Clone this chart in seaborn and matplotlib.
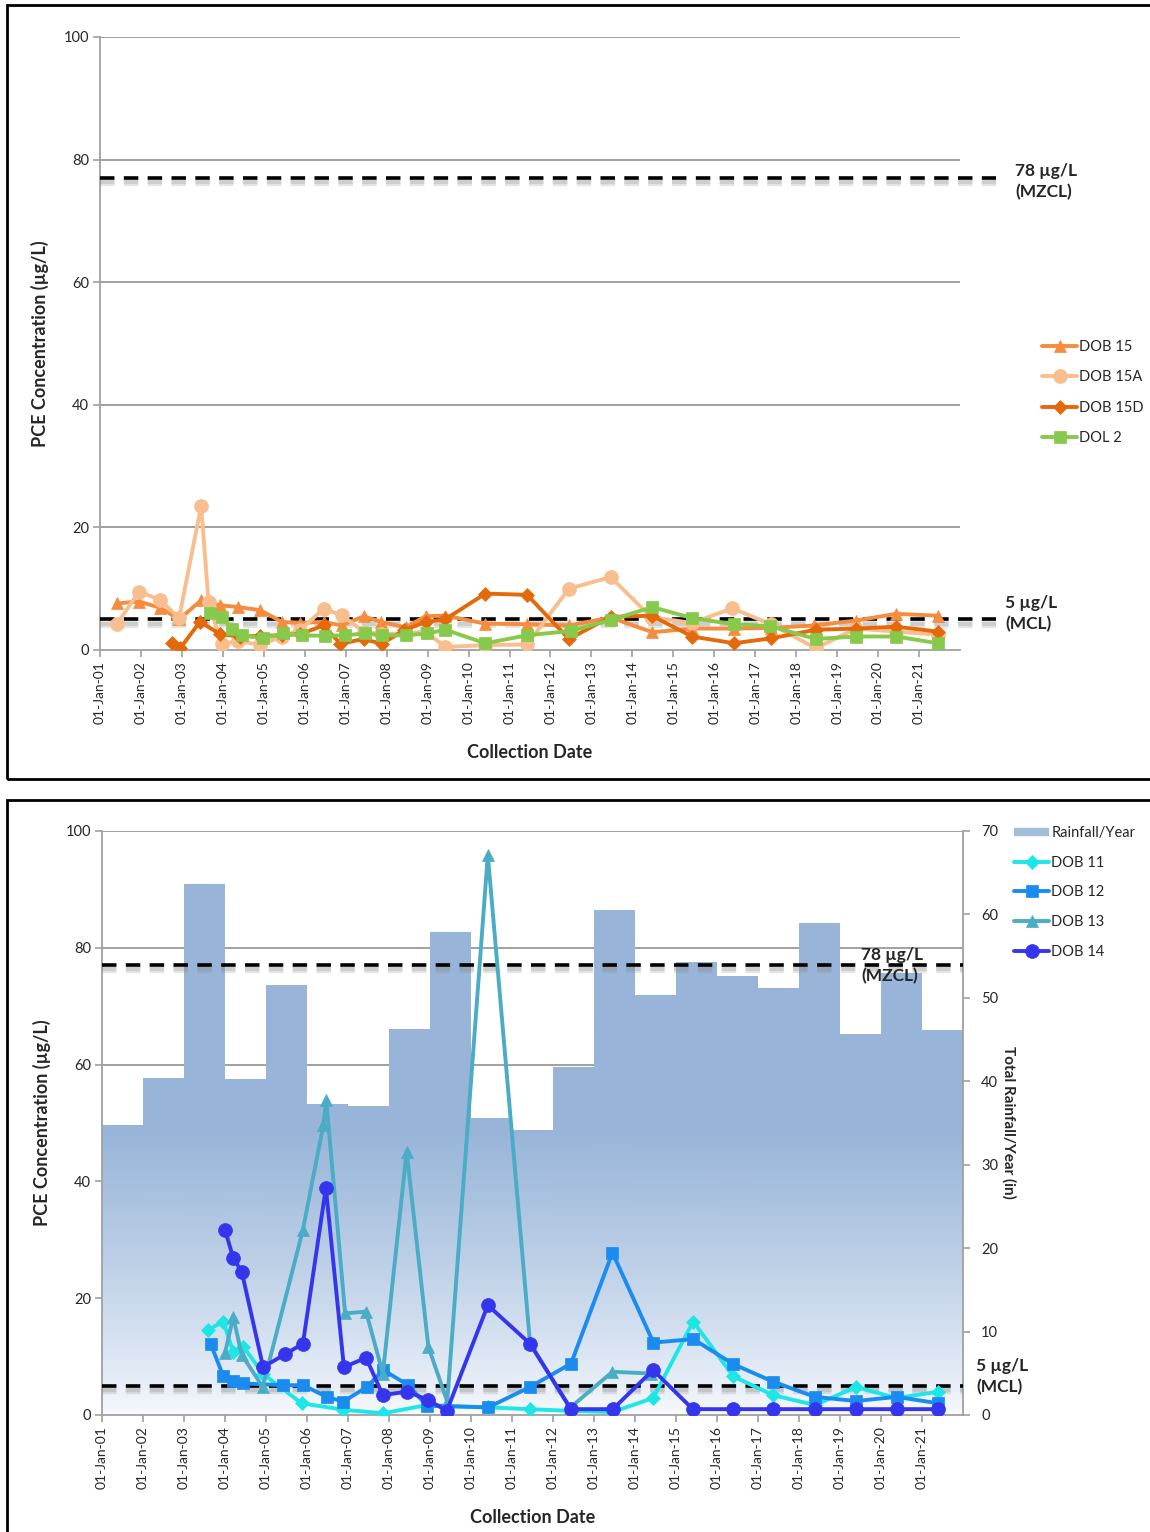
import numpy as np
import pandas as pd
import matplotlib
matplotlib.use("Agg")
import matplotlib.pyplot as plt
import seaborn as sns
from matplotlib import patheffects as pe
from matplotlib.lines import Line2D
from matplotlib.patches import Rectangle

# ---------------- data ----------------
years = list(range(2001, 2022))
tick_labels = [f"01-Jan-{y % 100:02d}" for y in years]

# top panel
dob15_x = [2001.42, 2001.95, 2002.47, 2002.93, 2003.47, 2003.93, 2004.38, 2004.91, 2005.44, 2005.89,
           2006.46, 2006.90, 2007.44, 2007.85, 2008.46, 2008.95, 2009.43, 2010.41, 2011.43, 2012.45,
           2013.47, 2014.49, 2015.46, 2016.48, 2017.38, 2018.43, 2019.46, 2020.44, 2021.46]
dob15_y = [7.6, 7.9, 6.9, 5.0, 8.1, 7.3, 7.0, 6.5, 4.6, 4.4,
           4.6, 4.0, 5.5, 4.6, 3.7, 5.5, 5.6, 4.3, 4.2, 4.0,
           5.3, 2.9, 3.5, 3.5, 3.6, 4.0, 4.8, 5.9, 5.6]

dob15a_x = [2001.42, 2001.95, 2002.47, 2002.93, 2003.47, 2003.65, 2003.97, 2004.38, 2004.91, 2005.44,
            2005.89, 2006.46, 2006.90, 2007.44, 2007.85, 2008.46, 2008.95, 2009.43, 2010.41, 2011.43,
            2012.45, 2013.47, 2014.45, 2015.46, 2016.44, 2017.38, 2018.48, 2019.46, 2020.44, 2021.46]
dob15a_y = [4.3, 9.5, 8.2, 5.2, 23.5, 7.9, 0.9, 1.5, 0.8, 2.2,
            3.3, 6.7, 5.7, 3.0, 2.6, 2.7, 3.0, 0.5, 0.8, 0.9,
            10.0, 11.9, 5.4, 4.4, 6.8, 4.2, 0.3, 3.5, 3.0, 2.5]

dob15d_x = [2002.75, 2002.96, 2003.44, 2003.93, 2004.42, 2004.91, 2005.44, 2005.89, 2006.46, 2006.87,
            2007.44, 2007.88, 2008.42, 2008.95, 2009.43, 2010.41, 2011.43, 2012.45, 2013.47, 2014.47,
            2015.46, 2016.48, 2017.38, 2018.48, 2019.46, 2020.44, 2021.46]
dob15d_y = [1.1, 0.3, 4.6, 2.6, 2.2, 2.3, 2.4, 2.6, 4.0, 1.0,
            1.8, 1.0, 3.2, 4.6, 5.0, 9.2, 9.0, 1.8, 5.4, 5.6,
            2.2, 1.1, 1.9, 3.3, 3.5, 3.8, 3.0]

dol2_x = [2003.69, 2003.97, 2004.22, 2004.46, 2004.99, 2005.48, 2005.93, 2006.50, 2006.99, 2007.48,
          2007.88, 2008.46, 2008.99, 2009.43, 2010.41, 2011.43, 2012.49, 2013.47, 2014.49, 2015.46,
          2016.48, 2017.36, 2018.48, 2019.46, 2020.44, 2021.46]
dol2_y = [6.0, 5.4, 3.5, 2.4, 1.9, 2.7, 2.4, 2.3, 2.4, 2.7,
          2.4, 2.4, 2.7, 3.3, 1.1, 2.4, 3.1, 4.9, 7.0, 5.2,
          4.2, 3.9, 1.8, 2.2, 2.2, 1.1]

# bottom panel
rain_year = [y + 0.5 for y in years]
rain_in = [34.8, 40.4, 63.6, 40.3, 51.5, 37.3, 37.0, 46.3, 57.9, 35.6, 34.2,
           41.7, 60.5, 50.3, 54.3, 52.6, 51.2, 59.0, 45.7, 53.0, 46.1]

dob11_x = [2003.59, 2003.96, 2004.20, 2004.45, 2004.93, 2005.87, 2006.89, 2007.86, 2008.92, 2010.42,
           2011.44, 2012.44, 2013.45, 2014.44, 2015.42, 2016.40, 2017.37, 2018.39, 2019.39, 2020.38, 2021.40]
dob11_y = [14.6, 16.0, 10.8, 11.7, 7.0, 2.0, 0.9, 0.3, 1.7, 1.3,
           1.0, 0.7, 0.5, 2.9, 16.0, 6.6, 3.4, 1.7, 4.8, 2.9, 4.0]

dob12_x = [2003.65, 2003.96, 2004.20, 2004.45, 2005.42, 2005.91, 2006.48, 2006.89, 2007.46, 2007.86,
           2008.47, 2008.92, 2010.42, 2011.44, 2012.44, 2013.45, 2014.45, 2015.42, 2016.40, 2017.37,
           2018.39, 2019.39, 2020.38, 2021.40]
dob12_y = [12.2, 6.6, 5.8, 5.4, 5.1, 5.1, 3.1, 2.3, 4.8, 7.7,
           5.1, 1.6, 1.3, 4.8, 8.8, 27.8, 12.4, 13.0, 8.7, 5.7,
           3.1, 2.4, 3.1, 2.0]

dob13_x = [2004.00, 2004.20, 2004.41, 2004.92, 2005.90, 2006.40, 2006.47, 2006.93, 2007.44, 2007.85,
           2008.43, 2008.96, 2009.42, 2010.41, 2011.44, 2012.41, 2013.45, 2014.40]
dob13_y = [10.6, 16.8, 10.3, 4.8, 31.7, 49.7, 53.9, 17.4, 17.7, 7.1,
           45.1, 11.7, 2.3, 95.9, 12.3, 1.2, 7.4, 7.1]

dob14_x = [2004.00, 2004.20, 2004.41, 2004.93, 2005.46, 2005.90, 2006.46, 2006.90, 2007.44, 2007.85,
           2008.44, 2008.95, 2009.41, 2010.41, 2011.44, 2012.44, 2013.46, 2014.44, 2015.41, 2016.39,
           2017.37, 2018.39, 2019.39, 2020.39, 2021.39]
dob14_y = [31.7, 26.9, 24.5, 8.2, 10.4, 12.2, 38.9, 8.2, 9.8, 3.4,
           4.0, 2.6, 0.7, 18.8, 12.2, 1.0, 1.0, 7.7, 1.0, 1.0,
           1.0, 1.0, 1.0, 1.0, 1.0]

MCL = 5
MZCL = 77

# ---------------- style ----------------
sns.set_style("white")
plt.rcParams["font.family"] = ["Lato", "DejaVu Sans"]

W, H = 1150, 1532
fig = plt.figure(figsize=(W / 100, H / 100), dpi=100)


def axrect(l, t, r, b):
    return [l / W, 1 - b / H, (r - l) / W, (b - t) / H]


GRAY = "#A0A0A0"
TICKFS = 10.5
LW = 2.8
MS = 9


def style_axis(ax):
    ax.set_xlim(2001, 2022)
    ax.set_ylim(0, 100)
    ax.set_yticks(range(0, 101, 20))
    ax.set_xticks(years)
    ax.set_xticklabels(tick_labels, rotation=90)
    for s in ["top", "right"]:
        ax.spines[s].set_visible(False)
    for s in ["left", "bottom"]:
        ax.spines[s].set_color(GRAY)
        ax.spines[s].set_linewidth(1.3)
    ax.tick_params(axis="both", direction="out", length=5, width=1.2, color=GRAY,
                   labelsize=TICKFS, pad=3, left=True, bottom=True)
    ax.tick_params(axis="x", labelsize=10)
    ax.set_xlabel("Collection Date", fontsize=13, fontweight="bold", labelpad=14)
    ax.set_ylabel("PCE Concentration (µg/L)", fontsize=13, fontweight="bold", labelpad=10)


def dashed(ax, y, x1):
    ax.plot([2001, x1], [y, y], color="black", lw=2.6, ls=(0, (4, 2.6)), clip_on=False, zorder=5,
            path_effects=[pe.SimpleLineShadow(offset=(0, -3), shadow_color="#8a8a8a", alpha=0.22,
                                              linewidth=6),
                          pe.SimpleLineShadow(offset=(0, -3), shadow_color="#8a8a8a", alpha=0.25,
                                              linewidth=3),
                          pe.Normal()])


def series(ax, x, y, color, marker, label, ms=MS):
    sns.lineplot(x=x, y=y, ax=ax, color=color, marker=marker, markersize=ms, linewidth=LW,
                 markeredgecolor=color, markeredgewidth=0.5, sort=False, label=label,
                 estimator=None, zorder=6)


# ---------------- top panel ----------------
ax1 = fig.add_axes(axrect(100, 37, 960, 650))
style_axis(ax1)
for v in range(20, 101, 20):
    ax1.axhline(v, color=GRAY, lw=1.4, zorder=0)

series(ax1, dob15_x, dob15_y, "#F58C3E", "^", "DOB 15")
series(ax1, dob15a_x, dob15a_y, "#F9BE8E", "o", "DOB 15A", ms=10)
series(ax1, dob15d_x, dob15d_y, "#E3690B", "D", "DOB 15D", ms=7.5)
series(ax1, dol2_x, dol2_y, "#86C94B", "s", "DOL 2")
dashed(ax1, MZCL, 2022.88)
dashed(ax1, MCL, 2022.88)
h1, l1 = ax1.get_legend_handles_labels()
ax1.get_legend().remove()
fig.legend(h1, l1, loc="upper left", bbox_to_anchor=(1042 / W, 1 - 340 / H), frameon=False,
           fontsize=10.5, handlelength=2.4, handletextpad=0.15, labelspacing=1.12, borderpad=0,
           borderaxespad=0)

fig.text(1015 / W, 1 - 163 / H, "78 µg/L\n(MZCL)", fontsize=12.5, fontweight="bold",
         va="top", ha="left", linespacing=1.4)
fig.text(1005 / W, 1 - 595 / H, "5 µg/L\n(MCL)", fontsize=12.5, fontweight="bold",
         va="top", ha="left", linespacing=1.4)

# ---------------- bottom panel ----------------
ax3 = fig.add_axes(axrect(102, 831, 963, 1415))
ax4 = ax3.twinx()

rain_df = pd.DataFrame({"year": rain_year, "rain": rain_in})
sns.barplot(data=rain_df, x="year", y="rain", native_scale=True, width=1.0, ax=ax4,
            color="#95B3D7", linewidth=0, errorbar=None, zorder=2)

# gradient fill (white at bottom -> blue at top), clipped to each bar
ygrid = np.linspace(0, 70, 400)
t = np.clip(ygrid / 34.0, 0, 1) ** 0.8
top_c = np.array([152, 181, 217]) / 255
bot_c = np.array([248, 250, 254]) / 255
grad = (bot_c[None, :] * (1 - t[:, None]) + top_c[None, :] * t[:, None])
grad = np.repeat(grad[:, None, :], 2, axis=1)
for p in list(ax4.patches):
    x0, w = p.get_x(), p.get_width()
    im = ax4.imshow(grad, extent=[x0, x0 + w, 0, 70], origin="lower", aspect="auto",
                    zorder=2, interpolation="bilinear")
    im.set_clip_path(p)
    p.set_facecolor("none")

for v in [14, 28, 42, 56, 70]:
    ax4.axhline(v, color=GRAY, lw=1.4, zorder=0.5)

ax4.set_ylim(0, 70)
ax4.set_yticks(range(0, 71, 10))
for s in ["top", "left", "bottom"]:
    ax4.spines[s].set_visible(False)
ax4.spines["right"].set_color(GRAY)
ax4.spines["right"].set_linewidth(1.3)
ax4.tick_params(axis="y", direction="out", length=5, width=1.2, color=GRAY, labelsize=TICKFS,
                right=True, pad=8)
ax4.set_ylabel("")
ax4.set_xlabel("")
fig.text(1009 / W, 1 - 1122 / H, "Total Rainfall/Year (in)", fontsize=11, fontweight="bold",
         rotation=270, ha="center", va="center")

ax3.set_zorder(ax4.get_zorder() + 1)
ax3.patch.set_visible(False)
style_axis(ax3)

series(ax3, dob11_x, dob11_y, "#1DE6E6", "D", "DOB 11", ms=7.5)
series(ax3, dob12_x, dob12_y, "#1A8CEF", "s", "DOB 12")
series(ax3, dob13_x, dob13_y, "#4BACC6", "^", "DOB 13")
series(ax3, dob14_x, dob14_y, "#3535EE", "o", "DOB 14", ms=10)
dashed(ax3, MZCL, 2022.0)
dashed(ax3, MCL, 2022.0)
ax3.set_xlim(2001, 2022)

h3, l3 = ax3.get_legend_handles_labels()
ax3.get_legend().remove()
rain_handle = Line2D([0], [0], color="#A3BCDD", lw=6, solid_capstyle="butt")
fig.legend([rain_handle] + h3, ["Rainfall/Year"] + l3, loc="upper left",
           bbox_to_anchor=(1014 / W, 1 - 826 / H), frameon=False, fontsize=10.5,
           handlelength=2.4, handletextpad=0.15, labelspacing=1.08, borderpad=0, borderaxespad=0)

ax3.text(2019.52, 80.2, "78 µg/L\n(MZCL)", fontsize=12.5, fontweight="bold", va="top",
         ha="left", linespacing=1.4, zorder=7)
fig.text(976 / W, 1 - 1358 / H, "5 µg/L\n(MCL)", fontsize=12.5, fontweight="bold",
         va="top", ha="left", linespacing=1.4)

# panel frames
fig.add_artist(Rectangle((7 / W, 1 - 779 / H), (1170 - 7) / W, (779 - 5) / H,
                         transform=fig.transFigure, fill=False, lw=2, ec="black"))
fig.add_artist(Rectangle((7 / W, 1 - 1560 / H), (1170 - 7) / W, (1560 - 800) / H,
                         transform=fig.transFigure, fill=False, lw=2, ec="black"))

fig.savefig("out.png", dpi=100)
